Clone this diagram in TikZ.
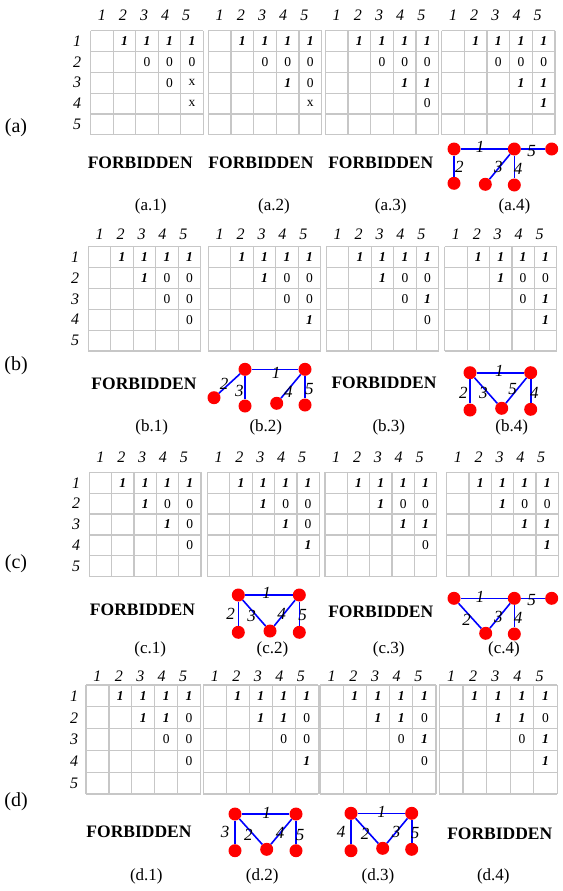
\documentclass[tikz,border=0pt]{standalone}
\usepackage{fontspec}
\setmainfont{Liberation Serif}
\tikzset{
 gridline/.style={draw=black!22, line width=1.2pt},
 hdr/.style={font=\fontsize{16}{16}\selectfont\itshape, inner sep=0pt},
 onev/.style={font=\fontsize{13.5}{13.5}\selectfont\bfseries\itshape, inner sep=0pt},
 zerov/.style={font=\fontsize{13.5}{13.5}\selectfont, inner sep=0pt},
 forb/.style={font=\fontsize{17.5}{17.5}\selectfont\bfseries, inner sep=0pt},
 sublab/.style={font=\fontsize{17}{17}\selectfont, inner sep=0pt},
 rowtag/.style={font=\fontsize{20}{20}\selectfont, inner sep=0pt},
 vtx/.style={circle, fill=red, inner sep=0pt, minimum size=13pt},
 edg/.style={draw=blue, line width=1.6pt},
 elab/.style={font=\fontsize{17}{17}\selectfont\itshape, inner sep=0pt},
}
% id, x0, x1, y0, y1, header y
\newcommand\mtx[6]{%
 \foreach \i in {0,...,5}{%
   \draw[gridline] ({#2+(#3-#2)*\i/5},#4) -- ({#2+(#3-#2)*\i/5},#5);
   \draw[gridline] (#2,{#4+(#5-#4)*\i/5}) -- (#3,{#4+(#5-#4)*\i/5});
 }
 \foreach \r in {1,...,5}{\foreach \c in {1,...,5}{%
   \coordinate (#1-\r-\c) at ({#2+(#3-#2)*(\c-0.5)/5},{#4+(#5-#4)*(\r-0.5)/5});}}
 \foreach \i in {1,...,5}{\node[hdr] (#1-h\i) at ({#2+(#3-#2)*(\i-0.5)/5-1.5*(\i-1)},#6) {\i};}
 \foreach \c in {2,...,5}{\node[onev] (#1-v1\c) at (#1-1-\c) {1};}
}
\newcommand\entone[3]{\node[onev] (#1-v#2#3) at (#1-#2-#3) {1};}
\newcommand\entzero[3]{\node[zerov] (#1-v#2#3) at (#1-#2-#3) {0};}
\newcommand\entx[3]{\node[zerov] (#1-v#2#3) at (#1-#2-#3) {x};}
% id, x, y0, y1
\newcommand\rowlabs[4]{%
 \foreach \r in {1,...,5}{\node[hdr] (#1-r\r) at (#2,{#3+(#4-#3)*(\r-0.5)/5}) {\r};}}
\begin{document}
\begin{tikzpicture}[x=1pt,y=-1pt]
\useasboundingbox (0,0) rectangle (562,891);
% ---------- row (a)
\node[rowtag] (ta) at (16,128) {(a)};
\rowlabs{ra}{77}{30.7}{134.7}
\mtx{a1}{90.7}{203.3}{30.7}{134.7}{15}
\mtx{a2}{208.3}{321.7}{30.7}{134.7}{15}
\mtx{a3}{325.3}{438.7}{30.7}{134.7}{15}
\mtx{a4}{441.7}{555}{30.7}{134.7}{15}
\entzero{a1}{2}{3}\entzero{a1}{2}{4}\entzero{a1}{2}{5}\entzero{a1}{3}{4}\entx{a1}{3}{5}\entx{a1}{4}{5}
\entzero{a2}{2}{3}\entzero{a2}{2}{4}\entzero{a2}{2}{5}\entone{a2}{3}{4}\entzero{a2}{3}{5}\entx{a2}{4}{5}
\entzero{a3}{2}{3}\entzero{a3}{2}{4}\entzero{a3}{2}{5}\entone{a3}{3}{4}\entone{a3}{3}{5}\entzero{a3}{4}{5}
\entzero{a4}{2}{3}\entzero{a4}{2}{4}\entzero{a4}{2}{5}\entone{a4}{3}{4}\entone{a4}{3}{5}\entone{a4}{4}{5}
\node[forb] (fa1) at (140.3,162.7) {FORBIDDEN};
\node[forb] (fa2) at (261,162.7) {FORBIDDEN};
\node[forb] (fa3) at (380.8,162.7) {FORBIDDEN};
\node[vtx] (a4A) at (454,149) {};
\node[vtx] (a4B) at (514.3,149) {};
\node[vtx] (a4C) at (551.7,149) {};
\node[vtx] (a4D) at (454,183.3) {};
\node[vtx] (a4E) at (485.3,184.3) {};
\node[vtx] (a4F) at (514.3,185) {};
\draw[edg] (a4A) -- (a4B);
\draw[edg] (a4B) -- (a4C);
\draw[edg] (a4A) -- (a4D);
\draw[edg] (a4B) -- (a4E);
\draw[edg] (a4B) -- (a4F);
\node[elab] (a4l1) at (480,146.7) {1};
\node[elab] (a4l5) at (531.7,150.7) {5};
\node[elab] (a4l2) at (459.3,166.7) {2};
\node[elab] (a4l3) at (498.3,166.7) {3};
\node[elab] (a4l4) at (518,169.3) {4};
\node[sublab] (sa1) at (150.8,206.7) {(a.1)};
\node[sublab] (sa2) at (274,206.7) {(a.2)};
\node[sublab] (sa3) at (390.8,206.7) {(a.3)};
\node[sublab] (sa4) at (514.5,206.7) {(a.4)};
% ---------- row (b)
\node[rowtag] (tb) at (16,365.7) {(b)};
\rowlabs{rb}{75}{246.7}{351}
\mtx{b1}{88.3}{200.7}{246.7}{351}{234}
\mtx{b2}{208.3}{320.7}{246.7}{351}{234}
\mtx{b3}{326.3}{438.7}{246.7}{351}{234}
\mtx{b4}{444.7}{556.7}{246.7}{351}{234}
\entone{b1}{2}{3}\entzero{b1}{2}{4}\entzero{b1}{2}{5}\entzero{b1}{3}{4}\entzero{b1}{3}{5}\entzero{b1}{4}{5}
\entone{b2}{2}{3}\entzero{b2}{2}{4}\entzero{b2}{2}{5}\entzero{b2}{3}{4}\entzero{b2}{3}{5}\entone{b2}{4}{5}
\entone{b3}{2}{3}\entzero{b3}{2}{4}\entzero{b3}{2}{5}\entzero{b3}{3}{4}\entone{b3}{3}{5}\entzero{b3}{4}{5}
\entone{b4}{2}{3}\entzero{b4}{2}{4}\entzero{b4}{2}{5}\entzero{b4}{3}{4}\entone{b4}{3}{5}\entone{b4}{4}{5}
\node[forb] (fb1) at (144,384) {FORBIDDEN};
\node[forb] (fb3) at (384,382.7) {FORBIDDEN};
\node[vtx] (b2A) at (245,369.3) {};
\node[vtx] (b2B) at (305,369.3) {};
\node[vtx] (b2C) at (214,397.7) {};
\node[vtx] (b2D) at (245,406) {};
\node[vtx] (b2E) at (276.7,403.3) {};
\node[vtx] (b2F) at (305,405) {};
\draw[edg] (b2A) -- (b2B);
\draw[edg] (b2A) -- (b2C);
\draw[edg] (b2A) -- (b2D);
\draw[edg] (b2B) -- (b2E);
\draw[edg] (b2B) -- (b2F);
\node[elab] (b2l1) at (276,372.7) {1};
\node[elab] (b2l2) at (224,384) {2};
\node[elab] (b2l3) at (239.3,390.7) {3};
\node[elab] (b2l4) at (288.3,391.7) {4};
\node[elab] (b2l5) at (309.3,389.3) {5};
\node[vtx] (b4A) at (470,372.7) {};
\node[vtx] (b4B) at (530.7,372.7) {};
\node[vtx] (b4C) at (470,410) {};
\node[vtx] (b4D) at (501.7,408.3) {};
\node[vtx] (b4E) at (530.7,409.3) {};
\draw[edg] (b4A) -- (b4B);
\draw[edg] (b4A) -- (b4C);
\draw[edg] (b4A) -- (b4D);
\draw[edg] (b4B) -- (b4D);
\draw[edg] (b4B) -- (b4E);
\node[elab] (b4l1) at (499.3,370.7) {1};
\node[elab] (b4l2) at (463.3,392.7) {2};
\node[elab] (b4l3) at (483.3,393.3) {3};
\node[elab] (b4l5) at (512.7,389.3) {5};
\node[elab] (b4l4) at (534.3,392.7) {4};
\node[sublab] (sb1) at (151.7,427.3) {(b.1)};
\node[sublab] (sb2) at (265.8,427.3) {(b.2)};
\node[sublab] (sb3) at (388.8,427.3) {(b.3)};
\node[sublab] (sb4) at (511.7,427.3) {(b.4)};
% ---------- row (c)
\node[rowtag] (tc) at (16,563.3) {(c)};
\rowlabs{rc}{76}{472.3}{576.7}
\mtx{c1}{89.3}{201}{472.3}{576.7}{457.3}
\mtx{c2}{207.3}{319.3}{472.3}{576.7}{457.3}
\mtx{c3}{325}{436.7}{472.3}{576.7}{457.3}
\mtx{c4}{446.7}{558.3}{472.3}{576.7}{457.3}
\entone{c1}{2}{3}\entzero{c1}{2}{4}\entzero{c1}{2}{5}\entone{c1}{3}{4}\entzero{c1}{3}{5}\entzero{c1}{4}{5}
\entone{c2}{2}{3}\entzero{c2}{2}{4}\entzero{c2}{2}{5}\entone{c2}{3}{4}\entzero{c2}{3}{5}\entone{c2}{4}{5}
\entone{c3}{2}{3}\entzero{c3}{2}{4}\entzero{c3}{2}{5}\entone{c3}{3}{4}\entone{c3}{3}{5}\entzero{c3}{4}{5}
\entone{c4}{2}{3}\entzero{c4}{2}{4}\entzero{c4}{2}{5}\entone{c4}{3}{4}\entone{c4}{3}{5}\entone{c4}{4}{5}
\node[forb] (fc1) at (142.5,610) {FORBIDDEN};
\node[forb] (fc3) at (380.8,611.7) {FORBIDDEN};
\node[vtx] (c2A) at (238.3,595) {};
\node[vtx] (c2B) at (299.3,595) {};
\node[vtx] (c2C) at (238.3,632.3) {};
\node[vtx] (c2D) at (270,631) {};
\node[vtx] (c2E) at (299.3,632.3) {};
\draw[edg] (c2A) -- (c2B);
\draw[edg] (c2A) -- (c2C);
\draw[edg] (c2A) -- (c2D);
\draw[edg] (c2B) -- (c2D);
\draw[edg] (c2B) -- (c2E);
\node[elab] (c2l1) at (266.7,593.3) {1};
\node[elab] (c2l2) at (230.7,614.3) {2};
\node[elab] (c2l3) at (251.7,616) {3};
\node[elab] (c2l4) at (281.7,614.3) {4};
\node[elab] (c2l5) at (302.7,615) {5};
\node[vtx] (c4A) at (454,598.3) {};
\node[vtx] (c4B) at (514.3,598.3) {};
\node[vtx] (c4C) at (551.7,598.3) {};
\node[vtx] (c4D) at (485.7,633.3) {};
\node[vtx] (c4E) at (514.3,634) {};
\draw[edg] (c4A) -- (c4B);
\draw[edg] (c4B) -- (c4C);
\draw[edg] (c4A) -- (c4D);
\draw[edg] (c4B) -- (c4D);
\draw[edg] (c4B) -- (c4E);
\node[elab] (c4l1) at (480,596.7) {1};
\node[elab] (c4l5) at (531.7,600) {5};
\node[elab] (c4l2) at (466.7,620) {2};
\node[elab] (c4l3) at (498.3,616.7) {3};
\node[elab] (c4l4) at (518,618.3) {4};
\node[sublab] (sc1) at (150.3,649.3) {(c.1)};
\node[sublab] (sc2) at (272.5,649.3) {(c.2)};
\node[sublab] (sc3) at (388.8,649.3) {(c.3)};
\node[sublab] (sc4) at (504,649.3) {(c.4)};
% ---------- row (d)
\node[rowtag] (td) at (16,801.7) {(d)};
\rowlabs{rd}{74}{685}{794}
\mtx{d1}{86}{200.5}{685}{794}{676}
\mtx{d2}{203.3}{318.3}{685}{794}{676}
\mtx{d3}{320}{436}{685}{794}{676}
\mtx{d4}{439.3}{557.3}{685}{794}{676}
\entone{d1}{2}{3}\entone{d1}{2}{4}\entzero{d1}{2}{5}\entzero{d1}{3}{4}\entzero{d1}{3}{5}\entzero{d1}{4}{5}
\entone{d2}{2}{3}\entone{d2}{2}{4}\entzero{d2}{2}{5}\entzero{d2}{3}{4}\entzero{d2}{3}{5}\entone{d2}{4}{5}
\entone{d3}{2}{3}\entone{d3}{2}{4}\entzero{d3}{2}{5}\entzero{d3}{3}{4}\entone{d3}{3}{5}\entzero{d3}{4}{5}
\entone{d4}{2}{3}\entone{d4}{2}{4}\entzero{d4}{2}{5}\entzero{d4}{3}{4}\entone{d4}{3}{5}\entone{d4}{4}{5}
\node[forb] (fd1) at (139,831.7) {FORBIDDEN};
\node[forb] (fd4) at (499.8,834) {FORBIDDEN};
\node[vtx] (d2A) at (235,814) {};
\node[vtx] (d2B) at (296,814) {};
\node[vtx] (d2C) at (235,850.7) {};
\node[vtx] (d2D) at (266.7,849.3) {};
\node[vtx] (d2E) at (296,850.7) {};
\draw[edg] (d2A) -- (d2B);
\draw[edg] (d2A) -- (d2C);
\draw[edg] (d2A) -- (d2D);
\draw[edg] (d2B) -- (d2D);
\draw[edg] (d2B) -- (d2E);
\node[elab] (d2l1) at (266.7,812.7) {1};
\node[elab] (d2l3) at (225,831.7) {3};
\node[elab] (d2l2) at (248.3,835) {2};
\node[elab] (d2l4) at (280,833.3) {4};
\node[elab] (d2l5) at (300,835) {5};
\node[vtx] (d3A) at (351,813.3) {};
\node[vtx] (d3B) at (411.7,813.3) {};
\node[vtx] (d3C) at (351,850.7) {};
\node[vtx] (d3D) at (382.7,848.3) {};
\node[vtx] (d3E) at (411.7,849.3) {};
\draw[edg] (d3A) -- (d3B);
\draw[edg] (d3A) -- (d3C);
\draw[edg] (d3A) -- (d3D);
\draw[edg] (d3B) -- (d3D);
\draw[edg] (d3B) -- (d3E);
\node[elab] (d3l1) at (381.7,811.7) {1};
\node[elab] (d3l4) at (341,831.7) {4};
\node[elab] (d3l2) at (365,834) {2};
\node[elab] (d3l3) at (396,831.7) {3};
\node[elab] (d3l5) at (415,832.7) {5};
\node[sublab] (sd1) at (146.3,876.7) {(d.1)};
\node[sublab] (sd2) at (262.2,876.7) {(d.2)};
\node[sublab] (sd3) at (378,876.7) {(d.3)};
\node[sublab] (sd4) at (493.3,876.7) {(d.4)};
\end{tikzpicture}
\end{document}
